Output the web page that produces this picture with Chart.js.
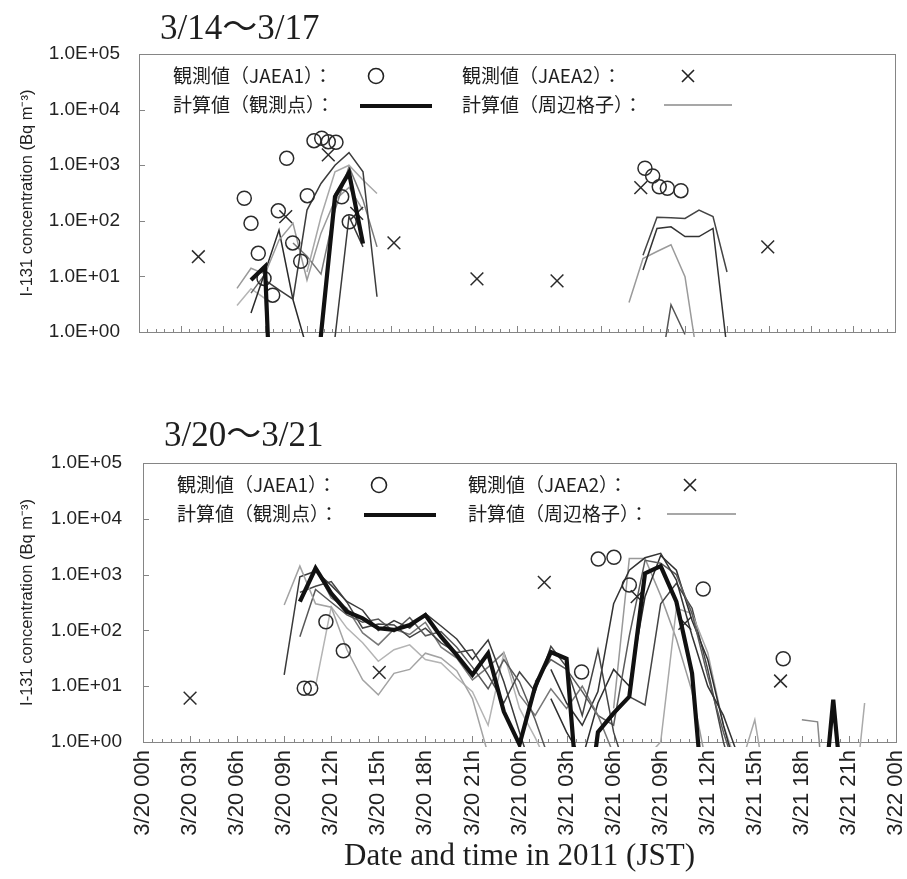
<!DOCTYPE html>
<html lang="ja">
<head>
<meta charset="UTF-8">
<title>I-131 concentration 3/14-3/17, 3/20-3/21</title>
<script src="https://cdn.jsdelivr.net/npm/chart.js"></script>
<style>
  body { margin: 0; background: #fff; }
  #wrap { position: relative; width: 907px; height: 879px; }
  canvas { position: absolute; left: 0; }
  #topChart { top: 0; }
  #bottomChart { top: 400px; }
</style>
</head>
<body>
<div id="wrap">
  <canvas id="topChart" width="907" height="400"></canvas>
  <canvas id="bottomChart" width="907" height="479"></canvas>
</div>
<script>
// ---- texts ----
const panelTitles = ['3/14～3/17', '3/20～3/21'];
const legendLabels = ['観測値（JAEA1）：', '観測値（JAEA2）：', '計算値（観測点）：', '計算値（周辺格子）：'];
const yTitle = 'I-131 concentration (Bq m⁻³)';
const xTitle = 'Date and time in 2011 (JST)';
const yDecades = [1, 10, 100, 1000, 10000, 100000];
const bottomTickHours = [0, 3, 6, 9, 12, 15, 18, 21, 24, 27, 30, 33, 36, 39, 42, 45, 48];
const bottomTickLabels = ['3/20 00h', '3/20 03h', '3/20 06h', '3/20 09h', '3/20 12h', '3/20 15h',
  '3/20 18h', '3/20 21h', '3/21 00h', '3/21 03h', '3/21 06h', '3/21 09h', '3/21 12h',
  '3/21 15h', '3/21 18h', '3/21 21h', '3/22 00h'];

// ---- top panel (3/14~3/17), x in hours from axis start ----
const topObs1Hours  = [7.52, 8.0, 10.55, 9.95, 8.52, 8.93, 9.55, 10.98, 11.55, 12.02, 12.5, 13.05, 13.52, 14.07, 14.48, 15.02, 36.14, 36.69, 37.16, 37.74, 38.71];
const topObs1Values = [254, 90, 1330, 151, 26, 9.2, 4.6, 40, 18.7, 283, 2760, 3050, 2650, 2580, 271, 96, 880, 640, 410, 385, 348];
const topObs2Hours  = [4.24, 10.48, 13.52, 15.55, 18.21, 24.14, 29.86, 35.84, 44.91];
const topObs2Values = [22.6, 119, 1530, 136, 40, 9, 8.3, 394, 34];

const topThick1 = [[8, 8.6], [9, 15], [10, 0.00001]];
const topThick2 = [[12, 0.001], [13, 0.9], [14, 272], [15, 735], [16, 39]];
const topGrid1 = [[9, 8.6], [10, 5.7], [11, 3.9], [12, 156], [13, 470], [14, 1000], [15, 1680], [16, 760], [17, 4.3]];
const topGrid2 = [[12, 12], [13, 118], [14, 760], [15, 1000], [16, 540], [17, 310]];
const topGrid3 = [[11, 40], [12, 23], [13, 11], [14, 156], [15, 940], [16, 237], [17, 34]];
const topGrid4 = [[13, 0.001], [14, 0.8], [15, 120], [16, 34]];
const topGrid5 = [[7, 6.1], [8, 14], [9, 11], [10, 45], [11, 90], [12, 8.6], [13, 60], [14, 237], [15, 400], [16, 156]];
const topGrid6 = [[8, 2.2], [9, 12], [10, 68], [11, 3.8], [12, 0.5]];
const topGrid7 = [[8, 5], [9, 11], [10, 0.00001]];
const topGrid8 = [[7, 3], [8, 6], [9, 4], [10, 0.0001]];
const topGrid9 = [[36, 24], [37, 116], [38, 114], [39, 110], [40, 156], [41, 119], [42, 12]];
const topGrid10 = [[36, 13], [37, 73], [38, 78], [39, 52], [40, 52], [41, 73], [42, 0.5]];
const topGrid11 = [[35, 3.4], [36, 21], [37, 28], [38, 37], [39, 9.9], [40, 0.22]];
const topGrid12 = [[37, 0.083], [38, 3.1], [39, 0.9]];

// ---- bottom panel (3/20~3/21), x in hours from 3/20 00h ----
const botObs1Hours  = [10.28, 10.69, 11.66, 12.77, 27.96, 29.02, 30.02, 31.0, 35.71, 40.81];
const botObs1Values = [9.2, 9.2, 143, 43, 18, 1900, 2040, 650, 552, 31];
const botObs2Hours  = [3.0, 15.06, 25.58, 31.5, 34.54, 40.64];
const botObs2Values = [6.1, 17.7, 728, 402, 134, 12.4];

const botThick1 = [[10, 327], [11, 1300], [12, 460], [13, 216], [14, 164], [15, 109], [16, 102], [17, 125], [18, 189],
  [19, 77], [20, 36], [21, 16], [22, 39], [23, 3.5], [24, 0.9], [25, 9.9], [26, 41], [27, 31], [28, 0.01],
  [29, 1.5], [30, 3.3], [31, 6.5], [32, 1050], [33, 1420], [34, 327], [35, 17], [36, 0.01]];
const botThick2 = [[43, 0.006], [44, 5.7], [45, 0.006]];
const botGrid1 = [[9, 285], [10, 1420], [11, 300], [12, 260], [13, 45], [14, 13], [15, 7], [16, 17], [17, 20], [18, 39], [19, 32], [20, 19], [21, 6], [22, 0.6], [23, 0.01]];
const botGrid2 = [[9, 16], [10, 915], [11, 1150], [12, 640], [13, 330], [14, 230], [15, 100], [16, 150], [17, 110], [18, 200], [19, 120], [20, 70], [21, 30], [22, 67], [23, 12], [24, 1.5], [25, 0.2]];
const botGrid3 = [[10, 77], [11, 540], [12, 320], [13, 190], [14, 140], [15, 160], [16, 95], [17, 170], [18, 80], [19, 95], [20, 50], [21, 22], [22, 9], [23, 30], [24, 12], [25, 2.5], [26, 0.4]];
const botGrid4 = [[10, 480], [11, 620], [12, 750], [13, 320], [14, 110], [15, 130], [16, 125], [17, 75], [18, 110], [19, 60], [20, 40], [21, 45], [22, 16], [23, 5], [24, 18], [25, 8], [26, 52], [27, 22], [28, 3], [29, 45], [30, 1.5], [31, 0.2]];
const botGrid5 = [[11, 10], [12, 265], [13, 110], [14, 60], [15, 28], [16, 45], [17, 55], [18, 30], [19, 26], [20, 14], [21, 8], [22, 2], [23, 39], [24, 4], [25, 1.2], [26, 0.3]];
const botGrid6 = [[11, 1300], [12, 380], [13, 250], [14, 90], [15, 55], [16, 105], [17, 85], [18, 140], [19, 50], [20, 32], [21, 13], [22, 22], [23, 40], [24, 7], [25, 3], [26, 9], [27, 4], [28, 10], [29, 3], [30, 0.6]];
const botGrid7 = [[26, 20], [27, 5], [28, 2], [29, 8], [30, 300], [31, 1200], [32, 2000], [33, 2400], [34, 800], [35, 80], [36, 10], [37, 3], [38, 0.5]];
const botGrid8 = [[25, 12], [26, 30], [27, 20], [28, 8], [29, 3], [30, 2], [31, 80], [32, 1800], [33, 1600], [34, 1000], [35, 200], [36, 15], [37, 1.5], [38, 0.2]];
const botGrid9 = [[26, 6], [27, 1.5], [28, 0.5], [29, 5], [30, 20], [31, 10], [32, 400], [33, 2200], [34, 1200], [35, 150], [36, 30], [37, 2], [38, 0.2]];
const botGrid10 = [[32, 0.5], [33, 1], [34, 250], [35, 200], [36, 40], [37, 2], [38, 0.3], [39, 2.5], [40, 0.05]];
const botGrid11 = [[29, 1.5], [30, 3], [31, 6.5], [32, 4.6], [33, 300], [34, 700], [35, 250], [36, 20], [37, 1], [38, 0.1]];
const botGrid12 = [[30, 4], [31, 1950], [32, 1950], [33, 420], [34, 70], [35, 8], [36, 0.3]];
const botGrid13 = [[42, 2.5], [43, 2.3], [44, 0.001]];
const botGrid14 = [[45, 0.01], [46, 5]];

// ---- dataset helpers ----
const CLIP = { left: 0, top: 0, right: 0, bottom: 5 };

function modelLine(pts, color, width, order) {
  return {
    data: pts.map(([x, y]) => ({ x, y })),
    borderColor: color, borderWidth: width, pointRadius: 0,
    fill: false, tension: 0, clip: CLIP, order: order
  };
}
function obsSet(hours, values, style, radius) {
  return {
    data: hours.map((x, i) => ({ x, y: values[i] })),
    showLine: false, pointStyle: style, pointRadius: radius, pointHoverRadius: radius,
    pointBorderColor: '#2b2b2b', pointBackgroundColor: 'rgba(0,0,0,0)',
    pointBorderWidth: 1.5, borderColor: '#2b2b2b', order: 1
  };
}

// axis ticks drawn inward, frame, panel title and the in-plot legend
function decor(o) {
  return {
    id: 'decor',
    beforeDatasetsDraw(chart) {
      const { ctx, chartArea: a, scales: { x, y } } = chart;
      ctx.save();
      ctx.strokeStyle = '#858585';
      ctx.lineWidth = 1;
      ctx.strokeRect(a.left + 0.5, a.top + 0.5, a.right - a.left, a.bottom - a.top);
      ctx.beginPath();
      const n = Math.round(o.span / 0.6);
      for (let i = 0; i <= n; i++) {
        const px = Math.round(x.getPixelForValue(i * 0.6)) + 0.5;
        ctx.moveTo(px, a.bottom);
        ctx.lineTo(px, a.bottom - (i % 5 === 0 ? 6 : 3));
      }
      yDecades.slice(1, -1).forEach(v => {
        const py = Math.round(y.getPixelForValue(v)) + 0.5;
        ctx.moveTo(a.left, py);
        ctx.lineTo(a.left + 6, py);
      });
      ctx.stroke();
      ctx.restore();
    },
    afterDraw(chart) {
      const ctx = chart.ctx;
      ctx.save();
      ctx.fillStyle = '#1e1e1e';
      ctx.textBaseline = 'alphabetic';
      ctx.font = '35px "Liberation Serif", "Noto Sans CJK JP"';
      ctx.fillText(o.title, o.titleX, o.titleY);

      ctx.font = '19px "Noto Sans CJK JP"';
      ctx.textBaseline = 'middle';
      ctx.fillText(legendLabels[0], o.col1, o.row1);
      ctx.fillText(legendLabels[1], o.col2, o.row1);
      ctx.fillText(legendLabels[2], o.col1, o.row2);
      ctx.fillText(legendLabels[3], o.col2, o.row2);

      ctx.strokeStyle = '#222';
      ctx.lineWidth = 1.6;
      ctx.beginPath();
      ctx.arc(o.circleX, o.row1, 7.5, 0, Math.PI * 2);
      ctx.stroke();
      ctx.beginPath();
      ctx.moveTo(o.crossX - 6, o.row1 - 6); ctx.lineTo(o.crossX + 6, o.row1 + 6);
      ctx.moveTo(o.crossX - 6, o.row1 + 6); ctx.lineTo(o.crossX + 6, o.row1 - 6);
      ctx.stroke();

      ctx.strokeStyle = '#111';
      ctx.lineWidth = 4;
      ctx.beginPath();
      ctx.moveTo(o.thick[0], o.row2 + 1); ctx.lineTo(o.thick[1], o.row2 + 1);
      ctx.stroke();
      ctx.strokeStyle = '#8a8a8a';
      ctx.lineWidth = 1.5;
      ctx.beginPath();
      ctx.moveTo(o.thin[0], o.row2); ctx.lineTo(o.thin[1], o.row2);
      ctx.stroke();
      ctx.restore();
    }
  };
}

function yAxis(width, pad) {
  return {
    type: 'logarithmic', min: 1, max: 100000,
    afterBuildTicks: s => { s.ticks = yDecades.map(v => ({ value: v })); },
    afterFit: s => { s.width = width; s.paddingTop = 0; s.paddingBottom = 0; },
    grid: { display: false, drawTicks: false },
    border: { display: false },
    ticks: {
      autoSkip: false, padding: pad, color: '#222',
      font: { family: 'Liberation Sans', size: 19 },
      callback: v => '1.0E+' + String(Math.round(Math.log10(v))).padStart(2, '0')
    },
    title: {
      display: true, text: yTitle, color: '#222',
      font: { family: 'Liberation Sans', size: 16.5 },
      padding: { top: 18, bottom: 0 }
    }
  };
}

Chart.defaults.font.family = 'Liberation Sans';

// ---- top chart ----
new Chart(document.getElementById('topChart'), {
  type: 'line',
  data: {
    datasets: [
      modelLine(topThick1, '#111', 4.2, 0),
      modelLine(topThick2, '#111', 4.2, 0),
      obsSet(topObs1Hours, topObs1Values, 'circle', 7),
      obsSet(topObs2Hours, topObs2Values, 'crossRot', 9),
      modelLine(topGrid1, '#3c3c3c', 1.5, 2),
      modelLine(topGrid2, '#a8a8a8', 1.5, 2),
      modelLine(topGrid3, '#7a7a7a', 1.5, 2),
      modelLine(topGrid4, '#3a3a3a', 1.5, 2),
      modelLine(topGrid5, '#9a9a9a', 1.5, 2),
      modelLine(topGrid6, '#2a2a2a', 1.5, 2),
      modelLine(topGrid7, '#666', 1.5, 2),
      modelLine(topGrid8, '#b5b5b5', 1.5, 2),
      modelLine(topGrid9, '#444', 1.5, 2),
      modelLine(topGrid10, '#333', 1.5, 2),
      modelLine(topGrid11, '#9a9a9a', 1.5, 2),
      modelLine(topGrid12, '#555', 1.5, 2)
    ]
  },
  options: {
    responsive: false, animation: false, devicePixelRatio: 1, events: [],
    layout: { padding: { top: 54, right: 12, left: 0, bottom: 0 } },
    plugins: { legend: { display: false }, tooltip: { enabled: false } },
    scales: {
      x: {
        type: 'linear', min: 0, max: 54,
        ticks: { display: false },
        grid: { display: false, drawTicks: false },
        border: { display: false },
        afterFit: s => { s.height = 68; s.paddingLeft = 0; s.paddingRight = 0; }
      },
      y: yAxis(139, 19)
    }
  },
  plugins: [decor({
    span: 54, title: panelTitles[0], titleX: 160, titleY: 39,
    col1: 173, col2: 462, row1: 76, row2: 105,
    circleX: 376, crossX: 688, thick: [360, 432], thin: [664, 732]
  })]
});

// ---- bottom chart ----
new Chart(document.getElementById('bottomChart'), {
  type: 'line',
  data: {
    datasets: [
      modelLine(botThick1, '#111', 4.2, 0),
      modelLine(botThick2, '#111', 4.2, 0),
      obsSet(botObs1Hours, botObs1Values, 'circle', 7),
      obsSet(botObs2Hours, botObs2Values, 'crossRot', 9),
      modelLine(botGrid1, '#a3a3a3', 1.5, 2),
      modelLine(botGrid2, '#3a3a3a', 1.5, 2),
      modelLine(botGrid3, '#585858', 1.5, 2),
      modelLine(botGrid4, '#444', 1.5, 2),
      modelLine(botGrid5, '#b4b4b4', 1.5, 2),
      modelLine(botGrid6, '#777', 1.5, 2),
      modelLine(botGrid7, '#333', 1.5, 2),
      modelLine(botGrid8, '#5a5a5a', 1.5, 2),
      modelLine(botGrid9, '#2e2e2e', 1.5, 2),
      modelLine(botGrid10, '#a8a8a8', 1.5, 2),
      modelLine(botGrid11, '#444', 1.5, 2),
      modelLine(botGrid12, '#999', 1.5, 2),
      modelLine(botGrid13, '#888', 1.5, 2),
      modelLine(botGrid14, '#aaa', 1.5, 2)
    ]
  },
  options: {
    responsive: false, animation: false, devicePixelRatio: 1, events: [],
    layout: { padding: { top: 63, right: 11, left: 0, bottom: 0 } },
    plugins: { legend: { display: false }, tooltip: { enabled: false } },
    scales: {
      x: {
        type: 'linear', min: 0, max: 48,
        afterBuildTicks: s => { s.ticks = bottomTickHours.map(v => ({ value: v })); },
        ticks: {
          autoSkip: false, minRotation: 90, maxRotation: 90, padding: 8, color: '#222',
          font: { family: 'Liberation Sans', size: 22 },
          callback: (v, i) => bottomTickLabels[i]
        },
        grid: { display: false, drawTicks: false },
        border: { display: false },
        title: {
          display: true, text: xTitle, color: '#1e1e1e',
          font: { family: 'Liberation Serif', size: 31 },
          padding: { top: 4, bottom: 4 }
        },
        afterFit: s => { s.height = 137; s.paddingLeft = 0; s.paddingRight = 0; }
      },
      y: yAxis(143, 21)
    }
  },
  plugins: [decor({
    span: 48, title: panelTitles[1], titleX: 164, titleY: 46,
    col1: 177, col2: 468, row1: 85, row2: 114,
    circleX: 379, crossX: 690, thick: [364, 436], thin: [667, 736]
  })]
});
</script>
</body>
</html>
